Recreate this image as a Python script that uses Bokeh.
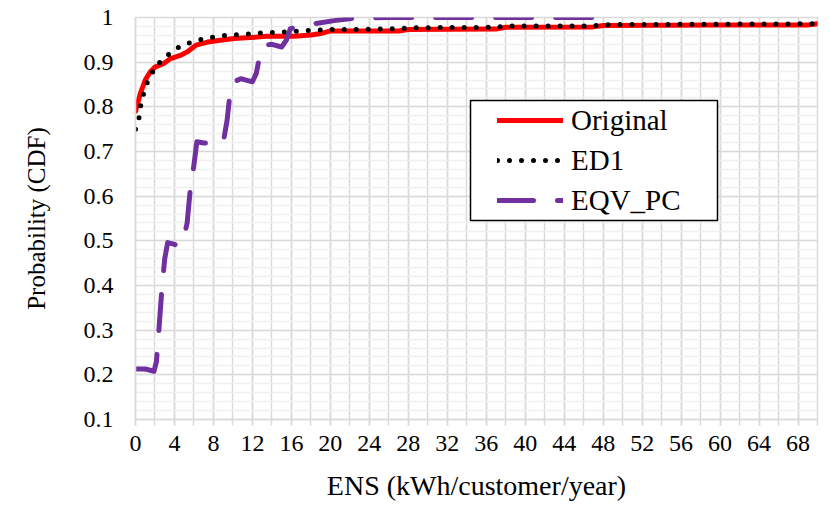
from bokeh.plotting import figure
from bokeh.models import FixedTicker, Range1d, Legend, LegendItem, BoxAnnotation
from bokeh.embed import file_html
from bokeh.resources import INLINE

# ---------------- data ----------------
orig_x = [0, 0.5, 1.0, 1.5, 2.0, 2.9, 3.6, 4.6, 5.3, 6.2, 7.4, 8.7, 10.1, 11.8, 13.5,
          16.3, 18.0, 19.0, 20.0, 27.0, 28.0, 37.0, 38.0, 47.0, 48.0, 60.0, 69.0, 70.0]
orig_y = [0.79, 0.83, 0.86, 0.878, 0.889, 0.897, 0.908, 0.915, 0.923, 0.938, 0.945, 0.949,
          0.953, 0.955, 0.958, 0.958, 0.961, 0.964, 0.970, 0.970, 0.973, 0.974, 0.978,
          0.979, 0.982, 0.983, 0.983, 0.986]

ed1_x = [0, 0.35, 0.5, 0.75, 1.03, 1.54, 2.1, 2.9, 3.8, 4.9, 6.1, 7.3, 8.5, 9.75, 11.0,
         12.1, 13.4, 14.6, 17.1, 19.6, 22.0, 24.5, 27.0, 28.0, 37.0, 38.0, 47.0, 48.0, 70.0]
ed1_y = [0.75, 0.774, 0.799, 0.823, 0.846, 0.869, 0.891, 0.908, 0.925, 0.939, 0.947, 0.954,
         0.958, 0.961, 0.962, 0.964, 0.966, 0.967, 0.970, 0.973, 0.973, 0.974, 0.975, 0.977,
         0.978, 0.981, 0.981, 0.984, 0.986]

eqv_x = [0, 1.0, 1.9, 2.15, 2.4, 2.7, 3.0, 3.3, 4.0, 4.5, 4.9, 5.3, 5.6, 6.0, 6.3, 7.0,
         9.0, 9.4, 9.7, 10.0, 10.8, 12.0, 12.4, 12.8, 13.1, 14.0, 15.0, 15.5, 15.9, 17.0,
         18.3, 20.4, 22.4, 26.0, 48.0]
eqv_y = [0.213, 0.213, 0.208, 0.23, 0.30, 0.39, 0.46, 0.496, 0.492, 0.488, 0.50, 0.54,
         0.61, 0.67, 0.722, 0.719, 0.719, 0.77, 0.83, 0.855, 0.863, 0.856, 0.875, 0.92,
         0.938, 0.94, 0.934, 0.95, 0.975, 0.98, 0.986, 0.993, 0.998, 1.0, 1.0]

series_names = ["Original", "ED1", "EQV_PC"]

x_ticks = [0, 4, 8, 12, 16, 20, 24, 28, 32, 36, 40, 44, 48, 52, 56, 60, 64, 68]
x_minor = [0, 2, 4, 6, 8, 10, 12, 14, 16, 18, 20, 22, 24, 26, 28, 30, 32, 34, 36, 38,
           40, 42, 44, 46, 48, 50, 52, 54, 56, 58, 60, 62, 64, 66, 68, 70]
y_ticks = [0.1, 0.2, 0.3, 0.4, 0.5, 0.6, 0.7, 0.8, 0.9, 1.0]
y_tick_labels = ["0.1", "0.2", "0.3", "0.4", "0.5", "0.6", "0.7", "0.8", "0.9", "1"]
y_minor = [0.1, 0.12, 0.14, 0.16, 0.18, 0.2, 0.22, 0.24, 0.26, 0.28, 0.3, 0.32, 0.34,
           0.36, 0.38, 0.4, 0.42, 0.44, 0.46, 0.48, 0.5, 0.52, 0.54, 0.56, 0.58, 0.6,
           0.62, 0.64, 0.66, 0.68, 0.7, 0.72, 0.74, 0.76, 0.78, 0.8, 0.82, 0.84, 0.86,
           0.88, 0.9, 0.92, 0.94, 0.96, 0.98, 1.0]

FONT = "Liberation Serif"
GRID = "#d9d9d9"

p = figure(width=822, height=503, output_backend="svg", toolbar_location=None,
           x_range=Range1d(0, 70), y_range=Range1d(0.1, 1.0),
           min_border_left=135, min_border_right=5, min_border_top=17,
           min_border_bottom=82,
           x_axis_label="ENS (kWh/customer/year)", y_axis_label="Probability (CDF)")
p.outline_line_color = GRID
p.outline_line_width = 1.5

# axes
p.xaxis.ticker = FixedTicker(ticks=x_ticks, minor_ticks=x_minor)
p.yaxis.ticker = FixedTicker(ticks=y_ticks, minor_ticks=y_minor)
p.yaxis.major_label_overrides = dict(zip(y_ticks, y_tick_labels))

for ax in (p.xaxis, p.yaxis):
    ax.axis_line_color = GRID
    ax.axis_line_width = 1.5
    ax.major_tick_line_color = GRID
    ax.minor_tick_line_color = GRID
    ax.major_tick_line_width = 1.5
    ax.minor_tick_line_width = 1.5
    ax.major_tick_in = 0
    ax.minor_tick_in = 0
    ax.major_label_text_font = FONT
    ax.major_label_text_font_size = "24px"
    ax.major_label_text_color = "black"
    ax.axis_label_text_font = FONT
    ax.axis_label_text_font_style = "normal"
    ax.axis_label_text_color = "black"

p.xaxis.major_tick_out = 6
p.xaxis.minor_tick_out = 6
p.xaxis.major_label_standoff = 10
p.xaxis.axis_label_text_font_size = "28px"
p.xaxis.axis_label_standoff = 16

p.yaxis.major_tick_out = 0
p.yaxis.minor_tick_out = 0
p.yaxis.major_label_standoff = 22
p.yaxis.axis_label_text_font_size = "25px"
p.yaxis.axis_label_standoff = 31

# grids
p.xgrid.grid_line_color = GRID
p.xgrid.grid_line_width = 1.5
p.xgrid.minor_grid_line_color = GRID
p.xgrid.minor_grid_line_width = 1.5
p.ygrid.grid_line_color = GRID
p.ygrid.grid_line_width = 1.5
p.ygrid.minor_grid_line_color = "#f0f0f0"
p.ygrid.minor_grid_line_width = 1.5

# series
r_orig = p.line(orig_x, orig_y, line_color="#ff0000", line_width=5,
                line_join="round", line_cap="round")
r_ed1 = p.line(ed1_x, ed1_y, line_color="black", line_width=5,
               line_dash="0 12", line_cap="round", line_join="round")
r_eqv = p.line(eqv_x, eqv_y, line_color="#7030a0", line_width=5,
               line_dash="36 24", line_cap="round", line_join="round")

# legend box + legend
box = BoxAnnotation(left=335, right=582, bottom=199, top=319,
                    left_units="screen", right_units="screen",
                    bottom_units="screen", top_units="screen",
                    fill_color="white", fill_alpha=1.0,
                    line_color="black", line_width=1.5, line_alpha=1.0)
p.add_layout(box)

legend = Legend(items=[LegendItem(label=series_names[0], renderers=[r_orig]),
                       LegendItem(label=series_names[1], renderers=[r_ed1]),
                       LegendItem(label=series_names[2], renderers=[r_eqv])],
                location=(362, 199), padding=0, spacing=0, margin=0,
                glyph_height=40, label_height=40, glyph_width=66,
                label_standoff=8,
                label_text_font=FONT, label_text_font_size="29px",
                label_text_color="black",
                border_line_alpha=0, background_fill_alpha=0)
p.add_layout(legend)

open("out.html", "w").write(file_html(p, INLINE))
